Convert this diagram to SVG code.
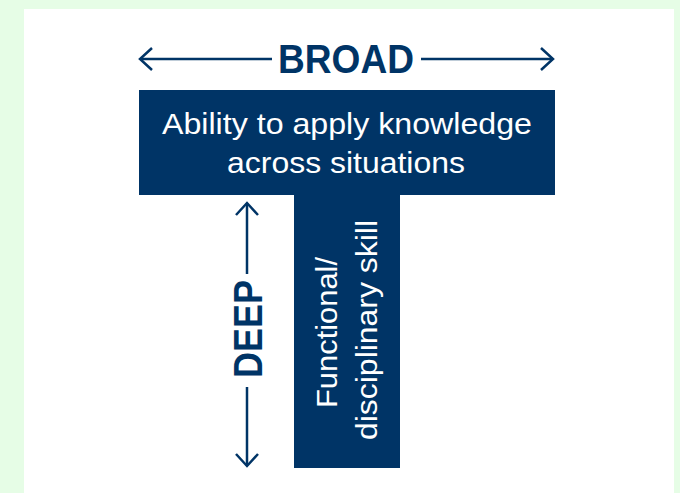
<svg xmlns="http://www.w3.org/2000/svg" width="680" height="493" viewBox="0 0 680 493">
  <defs>
    <style>
      .bg { fill: #e6fde6; }
      .panel { fill: #ffffff; }
      .box { fill: #003466; }
      .boxtext { fill: #ffffff; font-family: "Liberation Sans", Arial, sans-serif; font-size: 30px; text-anchor: middle; }
      .label { fill: #003466; font-family: "Liberation Sans", Arial, sans-serif; font-size: 40px; font-weight: bold; text-anchor: middle; }
      .arrow { stroke: #003466; stroke-width: 2.5; fill: none; }
    </style>
    <marker id="head" markerUnits="userSpaceOnUse" viewBox="-14 -13 16 26" refX="0" refY="0" markerWidth="16" markerHeight="26" orient="auto">
      <path d="M -12 -11 L 0 0 L -12 11" fill="none" stroke="#003466" stroke-width="2.5"/>
    </marker>
  </defs>

  <rect class="bg" x="0" y="0" width="680" height="493"/>
  <rect class="panel" x="24" y="9" width="650" height="484"/>

  <g id="broad-box">
    <rect class="box" x="139" y="90" width="416" height="105"/>
    <text class="boxtext" x="347" y="134" textLength="370" lengthAdjust="spacingAndGlyphs">Ability to apply knowledge</text>
    <text class="boxtext" x="346" y="173" textLength="238" lengthAdjust="spacingAndGlyphs">across situations</text>
  </g>

  <g id="deep-box">
    <rect class="box" x="294" y="195" width="106" height="273"/>
    <text class="boxtext" transform="translate(337,332.5) rotate(-90)" textLength="151" lengthAdjust="spacingAndGlyphs">Functional/</text>
    <text class="boxtext" transform="translate(377,330) rotate(-90)" textLength="220" lengthAdjust="spacingAndGlyphs">disciplinary skill</text>
  </g>

  <g id="broad-label">
    <text class="label" x="346" y="73" textLength="136" lengthAdjust="spacingAndGlyphs">BROAD</text>
  </g>

  <g id="deep-label">
    <text class="label" transform="translate(262,329) rotate(-90)" textLength="98" lengthAdjust="spacingAndGlyphs">DEEP</text>
  </g>

  <g id="connectors">
    <line class="arrow" x1="272" y1="59" x2="140" y2="59" marker-end="url(#head)"/>
    <line class="arrow" x1="421" y1="59" x2="553" y2="59" marker-end="url(#head)"/>
    <line class="arrow" x1="247" y1="274" x2="247" y2="203" marker-end="url(#head)"/>
    <line class="arrow" x1="247" y1="387" x2="247" y2="466" marker-end="url(#head)"/>
  </g>
</svg>
